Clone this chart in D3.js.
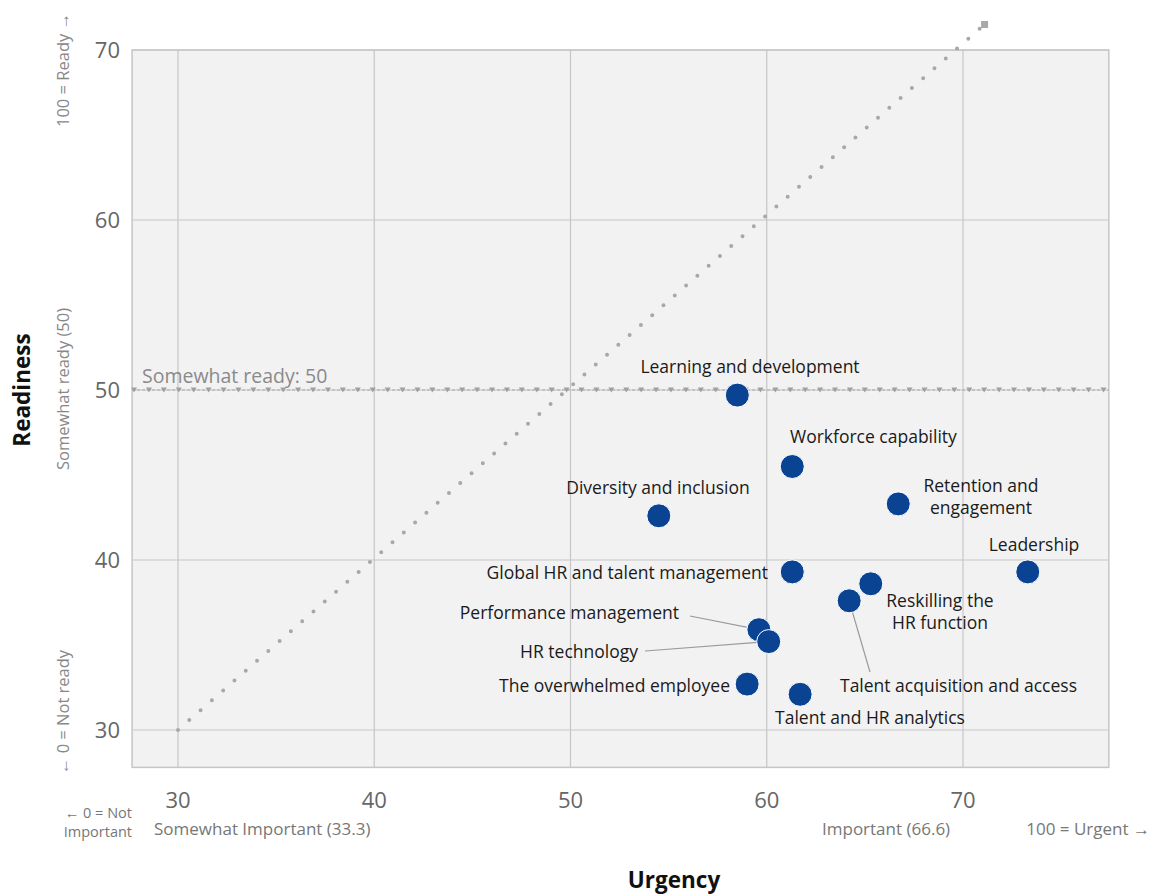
<!DOCTYPE html>
<html>
<head>
<meta charset="utf-8">
<script src="https://cdn.jsdelivr.net/npm/d3@7"></script>
<style>
  body { margin: 0; background: #fff; }
  text { font-family: "Open Sans", "Noto Sans", sans-serif; }
</style>
</head>
<body>
<svg id="chart"></svg>
<script>
// data
const names = [
  "Learning and development", "Workforce capability", "Diversity and inclusion",
  "Retention and engagement", "Leadership", "Global HR and talent management",
  "Reskilling the HR function", "Talent acquisition and access", "Performance management",
  "HR technology", "The overwhelmed employee", "Talent and HR analytics"
];
const urgency =   [58.5, 61.3, 54.5, 66.7, 73.3, 61.3, 65.3, 64.2, 59.6, 60.1, 59.0, 61.7];
const readiness = [49.7, 45.5, 42.6, 43.3, 39.3, 39.3, 38.6, 37.6, 35.9, 35.2, 32.7, 32.1];
const xTicks = [30, 40, 50, 60, 70];
const yTicks = [30, 40, 50, 60, 70];
const parity = [[30, 30], [71.1, 71.5]];
const readyLine = 50;

const W = 1154, H = 894;
const svg = d3.select("#chart").attr("width", W).attr("height", H);

const x = d3.scaleLinear().domain([30, 70]).range([178, 963]);
const y = d3.scaleLinear().domain([30, 70]).range([730, 50]);
const xLo = 27.66, xHi = 77.43, yLo = 27.8, yHi = 70;

// plot background
svg.append("rect")
  .attr("x", x(xLo)).attr("y", y(yHi))
  .attr("width", x(xHi) - x(xLo)).attr("height", y(yLo) - y(yHi))
  .attr("fill", "#f2f2f2").attr("stroke", "#c6c6c6").attr("stroke-width", 1.5);

// grid
svg.selectAll(".vgrid").data(xTicks).enter().append("line")
  .attr("x1", d => x(d)).attr("x2", d => x(d))
  .attr("y1", y(yHi)).attr("y2", y(yLo))
  .attr("stroke", "#c6c6c6").attr("stroke-width", 1.2);
svg.selectAll(".hgrid").data(yTicks).enter().append("line")
  .attr("y1", d => y(d)).attr("y2", d => y(d))
  .attr("x1", x(xLo)).attr("x2", x(xHi))
  .attr("stroke", "#c6c6c6").attr("stroke-width", 1.2);

// tick labels
svg.selectAll(".xt").data(xTicks).enter().append("text")
  .attr("x", d => x(d)).attr("y", 808)
  .attr("text-anchor", "middle").attr("font-size", 22).attr("fill", "#666")
  .text(d => d);
svg.selectAll(".yt").data(yTicks).enter().append("text")
  .attr("x", 120).attr("y", d => y(d) + 8)
  .attr("text-anchor", "end").attr("font-size", 22).attr("fill", "#666")
  .text(d => d);

// diagonal dotted line
svg.append("line")
  .attr("x1", x(parity[0][0])).attr("y1", y(parity[0][1]))
  .attr("x2", x(parity[1][0])).attr("y2", y(parity[1][1]))
  .attr("stroke", "#a8a8a8").attr("stroke-width", 4)
  .attr("stroke-linecap", "round").attr("stroke-dasharray", "0 15");
svg.append("rect")
  .attr("x", x(parity[1][0]) - 3.5).attr("y", y(parity[1][1]) - 3.5)
  .attr("width", 7).attr("height", 7).attr("fill", "#a8a8a8");

// somewhat ready line
svg.append("line")
  .attr("x1", x(xLo)).attr("x2", x(xHi))
  .attr("y1", y(readyLine)).attr("y2", y(readyLine))
  .attr("stroke", "#a8a8a8").attr("stroke-width", 1.2).attr("stroke-dasharray", "3 2");
const markerX = d3.range(xLo + 0.1, xHi, 0.76);
svg.selectAll(".mk").data(markerX).enter().append("path")
  .attr("transform", d => `translate(${x(d)},${y(readyLine)})`)
  .attr("d", "M-3,-2.5 L3,-2.5 L0,2.5 Z")
  .attr("fill", "#a0a0a0");
svg.append("text")
  .attr("x", 142).attr("y", y(readyLine) - 7)
  .attr("font-size", 19.5).attr("fill", "#8a8a8a")
  .text("Somewhat ready: 50");

// leader lines
const leaders = [
  {i: 8, lx: 690, ly: 616},
  {i: 9, lx: 645, ly: 651},
  {i: 7, lx: 870, ly: 672}
];
svg.selectAll(".lead").data(leaders).enter().append("line")
  .attr("x1", d => d.lx).attr("y1", d => d.ly)
  .attr("x2", d => x(urgency[d.i])).attr("y2", d => y(readiness[d.i]))
  .attr("stroke", "#9a9a9a").attr("stroke-width", 1.2);

// points
const pts = names.map((n, i) => ({name: n, u: urgency[i], r: readiness[i]}));
svg.selectAll(".pt").data(pts).enter().append("circle")
  .attr("cx", d => x(d.u)).attr("cy", d => y(d.r)).attr("r", 12)
  .attr("fill", "#0b4393").attr("stroke", "#fff").attr("stroke-width", 1);

// point labels
const labels = [
  {lines: ["Learning and development"], tx: 750, ty: 373, a: "middle"},
  {lines: ["Workforce capability"], tx: 790, ty: 443, a: "start"},
  {lines: ["Diversity and inclusion"], tx: 658, ty: 494, a: "middle"},
  {lines: ["Retention and", "engagement"], tx: 981, ty: 492, a: "middle"},
  {lines: ["Leadership"], tx: 1034, ty: 551, a: "middle"},
  {lines: ["Global HR and talent management"], tx: 768, ty: 579, a: "end"},
  {lines: ["Reskilling the", "HR function"], tx: 940, ty: 607, a: "middle"},
  {lines: ["Talent acquisition and access"], tx: 840, ty: 692, a: "start"},
  {lines: ["Performance management"], tx: 679, ty: 619, a: "end"},
  {lines: ["HR technology"], tx: 638, ty: 658, a: "end"},
  {lines: ["The overwhelmed employee"], tx: 730, ty: 692, a: "end"},
  {lines: ["Talent and HR analytics"], tx: 870, ty: 724, a: "middle"}
];
labels.forEach(l => {
  const t = svg.append("text")
    .attr("x", l.tx).attr("y", l.ty)
    .attr("text-anchor", l.a).attr("font-size", 17.5).attr("fill", "#1a1a1a");
  l.lines.forEach((s, k) => {
    t.append("tspan").attr("x", l.tx).attr("dy", k === 0 ? 0 : 22).text(s);
  });
});

// axis titles
svg.append("text")
  .attr("transform", "translate(30,390) rotate(-90)")
  .attr("text-anchor", "middle").attr("font-size", 22.5).attr("font-weight", "bold")
  .attr("fill", "#111").text("Readiness");
svg.append("text")
  .attr("x", 674).attr("y", 888)
  .attr("text-anchor", "middle").attr("font-size", 22.5).attr("font-weight", "bold")
  .attr("fill", "#111").text("Urgency");

// side annotations
const side = [
  {t: "100 = Ready \u2192", c: 70},
  {t: "Somewhat ready (50)", c: 389},
  {t: "\u2190 0 = Not ready", c: 712}
];
side.forEach(s => {
  svg.append("text")
    .attr("transform", `translate(69,${s.c}) rotate(-90)`)
    .attr("text-anchor", "middle").attr("font-size", 16.5).attr("fill", "#888")
    .text(s.t);
});

const bottom = [
  {t: "\u2190 0 = Not", x: 132, y: 818, a: "end", fs: 14.5},
  {t: "Important", x: 132, y: 837, a: "end", fs: 14.5},
  {t: "Somewhat Important (33.3)", x: 154, y: 835, a: "start", fs: 17},
  {t: "Important (66.6)", x: 822, y: 835, a: "start", fs: 17},
  {t: "100 = Urgent \u2192", x: 1150, y: 835, a: "end", fs: 17}
];
bottom.forEach(b => {
  svg.append("text")
    .attr("x", b.x).attr("y", b.y).attr("text-anchor", b.a)
    .attr("font-size", b.fs).attr("fill", "#777")
    .text(b.t);
});
</script>
</body>
</html>
